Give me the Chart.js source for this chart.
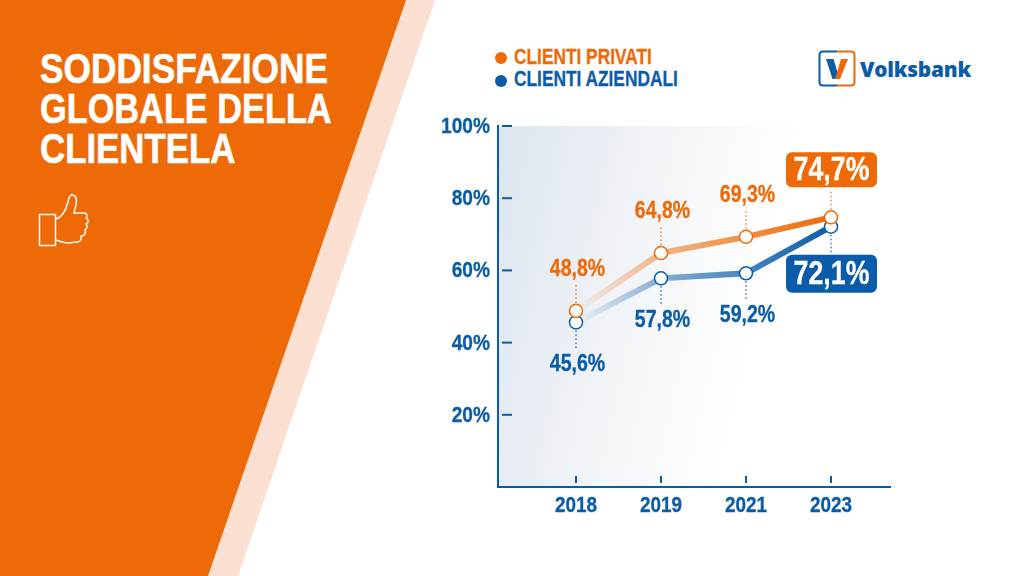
<!DOCTYPE html>
<html lang="it">
<head>
<meta charset="utf-8">
<title>Soddisfazione globale della clientela</title>
<script src="https://cdn.jsdelivr.net/npm/chart.js@4"></script>
<style>
  html, body { margin: 0; padding: 0; background: #fff; }
  #page { position: relative; width: 1024px; height: 576px; overflow: hidden; font-family: "Liberation Sans", sans-serif; font-weight: bold; }
  #band, #wedge { position: absolute; left: 0; top: 0; width: 1024px; height: 576px; }
  #band { background: #fbdfd0; clip-path: polygon(0 0, 435px 0, 238px 576px, 0 576px); }
  #wedge { background: #ee6a07; clip-path: polygon(0 0, 406px 0, 208px 576px, 0 576px); }
  #title { position: absolute; left: 40px; top: 48px; color: #fff; font-size: 43px; line-height: 40px; white-space: nowrap; -webkit-text-stroke: 0.6px #fff; }
  #title span { display: block; transform-origin: left top; }
  #thumb { position: absolute; left: 36px; top: 190px; }
  .legend { position: absolute; left: 514px; font-size: 21.5px; line-height: 24px; white-space: nowrap; transform: scaleX(0.805); transform-origin: left top; -webkit-text-stroke: 0.3px; }
  .dot { position: absolute; left: 495px; width: 12px; height: 12px; border-radius: 50%; }
  #logo { position: absolute; left: 818px; top: 50px; }
  #logoText { position: absolute; left: 860px; top: 54px; font-family: "Open Sans", sans-serif; font-weight: 800; font-size: 20.8px; line-height: 30px; color: #0a5ca8; letter-spacing: -0.2px; }
  canvas { position: absolute; left: 0; top: 0; }
</style>
</head>
<body>
<div id="page">
  <div id="band"></div>
  <div id="wedge"></div>
  <div id="title">
    <span style="transform:scaleX(0.82)">SODDISFAZIONE</span>
    <span style="transform:scaleX(0.798)">GLOBALE DELLA</span>
    <span style="transform:scaleX(0.81)">CLIENTELA</span>
  </div>
  <svg id="thumb" width="56" height="60" viewBox="0 0 56 60" fill="none" stroke="#fff" stroke-width="1.5" stroke-linejoin="round" stroke-linecap="round">
    <rect x="3.5" y="24.5" width="16" height="31"/>
    <path d="M20 29 C26 27 30 20 32 12 C33 6 35 4 37 5 C40 6 41 10 40 15 C39 19 38 22 38 23 L48 23 C51 23 52 26 50 28 C53 29 53 33 50 34 C52 36 51 39 49 40 C50 42 49 46 46 46 L45 46 C46 49 44 52 41 52 L32 53 C27 53 24 51 20 50"/>
  </svg>
  <span class="dot" style="top:52px;background:#ee6a07"></span>
  <div class="legend" style="top:45px;color:#ee6a07">CLIENTI PRIVATI</div>
  <span class="dot" style="top:75px;background:#0a5ca8"></span>
  <div class="legend" style="top:67px;color:#0a5ca8">CLIENTI AZIENDALI</div>
  <svg id="logo" width="38" height="38" viewBox="0 0 38 38" fill="none">
    <path d="M19 1.5 H5 Q1.5 1.5 1.5 5 V32 Q1.5 35.5 5 35.5 H19" stroke="#0a5ca8" stroke-width="2"/>
    <path d="M19 1.5 H33 Q36.5 1.5 36.5 5 V32 Q36.5 35.5 33 35.5 H19" stroke="#ee6a07" stroke-width="2"/>
    <path d="M8 9 H15.5 L20 24 L17 29 H14.5 Z" fill="#0a5ca8"/>
    <path d="M23 9 H30 L22 29 H17 Z" fill="#ee6a07"/>
  </svg>
  <div id="logoText">Volksbank</div>
  <canvas id="myChart" width="1024" height="576"></canvas>
</div>
<script>
const years = ['2018', '2019', '2021', '2023']
const privati = [48.8, 64.8, 69.3, 74.7]
const aziendali = [45.6, 57.8, 59.2, 72.1]
const yTicks = [20, 40, 60, 80, 100]

const ORANGE = '#ee6a07'
const BLUE = '#0a5ca8'
const FONT = '"Liberation Sans", sans-serif'

// line fades in from 2018 to 2023
const fadeLine = function (rgb) {
  return function (context) {
    const chart = context.chart
    if (!chart.chartArea) return `rgb(${rgb})`
    const x = chart.scales.x
    const grad = chart.ctx.createLinearGradient(x.getPixelForValue(0), 0, x.getPixelForValue(3), 0)
    grad.addColorStop(0, `rgba(${rgb},0)`)
    grad.addColorStop(0.33, `rgba(${rgb},0.48)`)
    grad.addColorStop(0.66, `rgba(${rgb},0.75)`)
    grad.addColorStop(1, `rgba(${rgb},1)`)
    return grad
  }
}

const fmt = function (v) {
  return v.toFixed(1).replace('.', ',') + '%'
}

// no condensed font installed, so squeeze the bold one
const narrowText = function (ctx, text, x, y, size, ratio, align, color) {
  ctx.save()
  ctx.translate(x, y)
  ctx.scale(ratio, 1)
  ctx.font = `bold ${size}px ${FONT}`
  ctx.textAlign = align
  ctx.textBaseline = 'middle'
  ctx.fillStyle = color
  ctx.strokeStyle = color
  ctx.lineWidth = 0.3
  ctx.fillText(text, 0, 0)
  ctx.strokeText(text, 0, 0)
  ctx.restore()
}

const leader = function (ctx, x, y1, y2, color) {
  ctx.save()
  ctx.strokeStyle = color
  ctx.lineWidth = 1.2
  ctx.setLineDash([1.5, 2.5])
  ctx.beginPath()
  ctx.moveTo(x, y1)
  ctx.lineTo(x, y2)
  ctx.stroke()
  ctx.restore()
}

const badge = function (ctx, cx, top, height, color, text) {
  ctx.save()
  ctx.fillStyle = color
  ctx.beginPath()
  ctx.roundRect(cx - 45.5, top, 91, height, 6)
  ctx.fill()
  ctx.restore()
  narrowText(ctx, text, cx, top + height / 2 + 1, 33, 0.81, 'center', '#fff')
}

const plotBackground = {
  id: 'plotBackground',
  beforeDraw: function (chart) {
    const a = chart.chartArea
    const ctx = chart.ctx
    const grad = ctx.createLinearGradient(a.left - 15, a.top + 80, a.left + 270, a.top + 145)
    grad.addColorStop(0, '#dde5ee')
    grad.addColorStop(0.5, '#f0f3f7')
    grad.addColorStop(1, '#ffffff')
    ctx.save()
    ctx.fillStyle = grad
    ctx.fillRect(a.left, a.top, a.right - a.left, a.bottom - a.top)
    ctx.restore()
  }
}

const axisMarks = {
  id: 'axisMarks',
  afterDraw: function (chart) {
    const ctx = chart.ctx
    const a = chart.chartArea
    ctx.save()
    ctx.strokeStyle = BLUE
    ctx.lineWidth = 2
    chart.scales.y.ticks.forEach(function (t) {
      const y = chart.scales.y.getPixelForValue(t.value)
      ctx.beginPath()
      ctx.moveTo(a.left + 4, y)
      ctx.lineTo(a.left + 14, y)
      ctx.stroke()
      narrowText(ctx, t.value + '%', a.left - 8, y + 1, 22, 0.87, 'right', BLUE)
    })
    chart.scales.x.ticks.forEach(function (t) {
      const x = chart.scales.x.getPixelForValue(t.value)
      ctx.beginPath()
      ctx.moveTo(x, a.bottom - 11)
      ctx.lineTo(x, a.bottom - 4)
      ctx.stroke()
      narrowText(ctx, years[t.value], x, a.bottom + 19, 22, 0.86, 'center', BLUE)
    })
    ctx.restore()
  }
}

const valueLabels = {
  id: 'valueLabels',
  afterDraw: function (chart) {
    const ctx = chart.ctx
    const xs = chart.scales.x
    const ys = chart.scales.y
    const last = years.length - 1
    years.forEach(function (label, i) {
      const x = xs.getPixelForValue(i)
      const yp = ys.getPixelForValue(privati[i])
      const ya = ys.getPixelForValue(aziendali[i])
      if (i < last) {
        leader(ctx, x, yp - 8, yp - 26, ORANGE)
        leader(ctx, x, ya + 8, ya + 27, BLUE)
        narrowText(ctx, fmt(privati[i]), x + 1.5, yp - 41, 23, 0.85, 'center', ORANGE)
        narrowText(ctx, fmt(aziendali[i]), x + 1.5, ya + 42, 23, 0.85, 'center', BLUE)
      } else {
        leader(ctx, x, yp - 8, yp - 28, ORANGE)
        leader(ctx, x, ya + 8, ya + 28, BLUE)
        badge(ctx, x + 0.5, yp - 65, 35, ORANGE, fmt(privati[i]))
        badge(ctx, x + 0.5, ya + 28, 38, BLUE, fmt(aziendali[i]))
      }
    })
  }
}

const toPoints = function (values) {
  return values.map(function (v, i) {
    return { x: i, y: v }
  })
}

const showChart = function () {
  const ctx = document.getElementById('myChart').getContext('2d')
  new Chart(ctx, {
    type: 'line',
    data: {
      datasets: [{
        label: 'Clienti privati',
        data: toPoints(privati),
        borderColor: fadeLine('238,106,7'),
        borderWidth: 6,
        pointBackgroundColor: '#fff',
        pointBorderColor: ORANGE,
        pointBorderWidth: 1.5,
        pointRadius: 6.5
      }, {
        label: 'Clienti aziendali',
        data: toPoints(aziendali),
        borderColor: fadeLine('10,92,168'),
        borderWidth: 6,
        pointBackgroundColor: '#fff',
        pointBorderColor: BLUE,
        pointBorderWidth: 1.5,
        pointRadius: 6.5
      }]
    },
    options: {
      responsive: false,
      animation: false,
      layout: { padding: { top: 126, right: 134 } },
      plugins: { legend: { display: false }, tooltip: { enabled: false } },
      scales: {
        x: {
          type: 'linear',
          min: -78 / 85,
          max: 3 + 59 / 85,
          afterBuildTicks: function (axis) {
            axis.ticks = years.map(function (label, i) { return { value: i } })
          },
          afterFit: function (axis) { axis.height = 89 },
          border: { color: BLUE, width: 2 },
          grid: { display: false },
          ticks: { display: false }
        },
        y: {
          min: 0,
          max: 100,
          afterBuildTicks: function (axis) {
            axis.ticks = yTicks.map(function (v) { return { value: v } })
          },
          afterFit: function (axis) { axis.width = 498 },
          border: { color: BLUE, width: 2 },
          grid: { display: false },
          ticks: { display: false }
        }
      }
    },
    plugins: [plotBackground, axisMarks, valueLabels]
  })
}

showChart()
</script>
</body>
</html>
